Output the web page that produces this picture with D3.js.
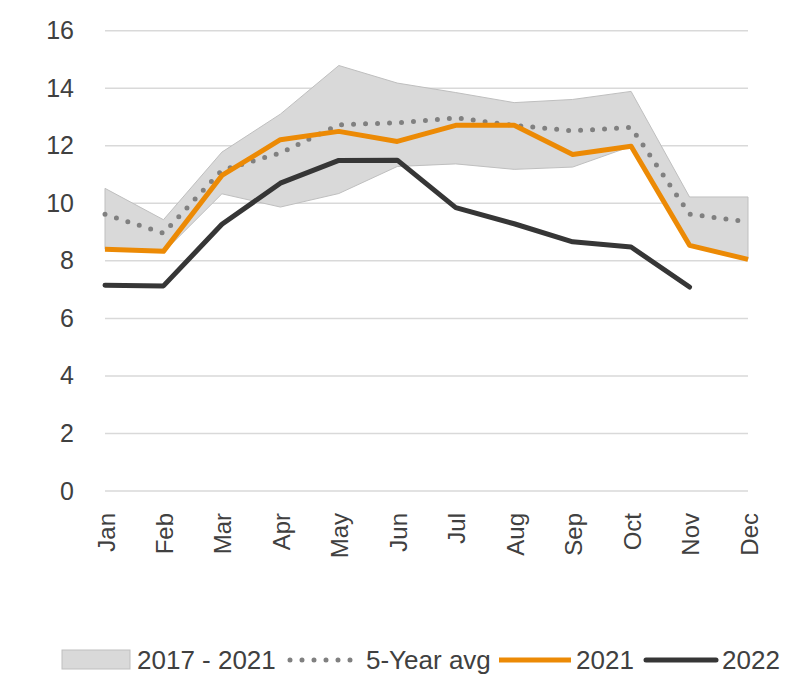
<!DOCTYPE html>
<html lang="en">
<head>
  <meta charset="UTF-8" />
  <title>Monthly range chart</title>
  <script src="https://d3js.org/d3.v7.min.js"></script>
  <style>
    body {
      margin: 0;
      background: #ffffff;
      font-family: 'Liberation Sans', Arial, sans-serif;
    }
    svg text {
      fill: #404040;
    }
  </style>
</head>
<body>
  <svg id="chart" width="811" height="678"></svg>

  <script>
    const months = ["Jan", "Feb", "Mar", "Apr", "May", "Jun", "Jul", "Aug", "Sep", "Oct", "Nov", "Dec"];
    const rangeLow  = [8.4, 8.3, 10.33, 9.87, 10.34, 11.28, 11.37, 11.18, 11.26, 11.98, 8.54, 8.05];
    const rangeHigh = [10.52, 9.43, 11.78, 13.1, 14.79, 14.18, 13.85, 13.5, 13.61, 13.89, 10.22, 10.22];
    const avg5      = [9.62, 8.96, 11.15, 11.75, 12.73, 12.8, 12.97, 12.71, 12.52, 12.64, 9.62, 9.36];
    const y2021     = [8.4, 8.33, 10.97, 12.21, 12.5, 12.15, 12.71, 12.71, 11.7, 11.98, 8.54, 8.05];
    const y2022     = [7.15, 7.13, 9.27, 10.7, 11.49, 11.5, 9.85, 9.29, 8.66, 8.48, 7.09];
    const yTicks = [0, 2, 4, 6, 8, 10, 12, 14, 16];

    const svg = d3.select("#chart");

    const x = d3.scalePoint().domain(months).range([105, 748]);
    const y = d3.scaleLinear().domain([0, 16]).range([491, 30.7]);

    // gridlines
    svg.append("g")
      .selectAll("line")
      .data(yTicks)
      .join("line")
      .attr("x1", 105).attr("x2", 748)
      .attr("y1", d => y(d)).attr("y2", d => y(d))
      .attr("stroke", "#d9d9d9")
      .attr("stroke-width", 1.5);

    // y axis labels
    const yAxis = svg.append("g")
      .attr("transform", "translate(93,0)")
      .call(d3.axisLeft(y).tickValues(yTicks).tickSize(0).tickPadding(19));
    yAxis.select(".domain").remove();
    yAxis.selectAll("text")
      .style("font-family", "'Liberation Sans', Arial, sans-serif")
      .style("font-size", "25px");

    // x axis labels, rotated
    const xAxis = svg.append("g")
      .attr("transform", "translate(0,491)")
      .call(d3.axisBottom(x).tickSize(0).tickPadding(0));
    xAxis.select(".domain").remove();
    xAxis.selectAll("text")
      .style("font-family", "'Liberation Sans', Arial, sans-serif")
      .style("font-size", "24px")
      .attr("text-anchor", "end")
      .attr("dy", null)
      .attr("y", 0)
      .attr("transform", "translate(9,22) rotate(-90)");

    // band 2017 - 2021
    const area = d3.area()
      .x((d, i) => x(months[i]))
      .y0((d, i) => y(rangeLow[i]))
      .y1(d => y(d));
    svg.append("path")
      .datum(rangeHigh)
      .attr("d", area)
      .attr("fill", "#d9d9d9")
      .attr("stroke", "#bfbfbf")
      .attr("stroke-width", 1);

    const line = d3.line().x((d, i) => x(months[i])).y(d => y(d));

    svg.append("path")
      .datum(avg5)
      .attr("d", line)
      .attr("fill", "none")
      .attr("stroke", "#808080")
      .attr("stroke-width", 5)
      .attr("stroke-linecap", "round")
      .attr("stroke-dasharray", "0 12");

    svg.append("path")
      .datum(y2021)
      .attr("d", line)
      .attr("fill", "none")
      .attr("stroke", "#ec8a05")
      .attr("stroke-width", 5)
      .attr("stroke-linejoin", "round");

    svg.append("path")
      .datum(y2022)
      .attr("d", line)
      .attr("fill", "none")
      .attr("stroke", "#363636")
      .attr("stroke-width", 5)
      .attr("stroke-linejoin", "round")
      .attr("stroke-linecap", "round");

    // legend
    const legend = svg.append("g").style("font-size", "26px");
    legend.append("rect")
      .attr("x", 62).attr("y", 650).attr("width", 68).attr("height", 19)
      .attr("fill", "#d9d9d9").attr("stroke", "#bfbfbf");
    legend.append("text").attr("x", 137).attr("y", 669).text("2017 - 2021");

    legend.append("line")
      .attr("x1", 290).attr("x2", 352).attr("y1", 660).attr("y2", 660)
      .attr("stroke", "#808080").attr("stroke-width", 5)
      .attr("stroke-linecap", "round").attr("stroke-dasharray", "0 12");
    legend.append("text").attr("x", 366).attr("y", 669).text("5-Year avg");

    legend.append("line")
      .attr("x1", 499).attr("x2", 571).attr("y1", 660).attr("y2", 660)
      .attr("stroke", "#ec8a05").attr("stroke-width", 5);
    legend.append("text").attr("x", 576).attr("y", 669).text("2021");

    legend.append("line")
      .attr("x1", 646).attr("x2", 716).attr("y1", 660).attr("y2", 660)
      .attr("stroke", "#363636").attr("stroke-width", 5)
      .attr("stroke-linecap", "round");
    legend.append("text").attr("x", 722).attr("y", 669).text("2022");
  </script>
</body>
</html>
